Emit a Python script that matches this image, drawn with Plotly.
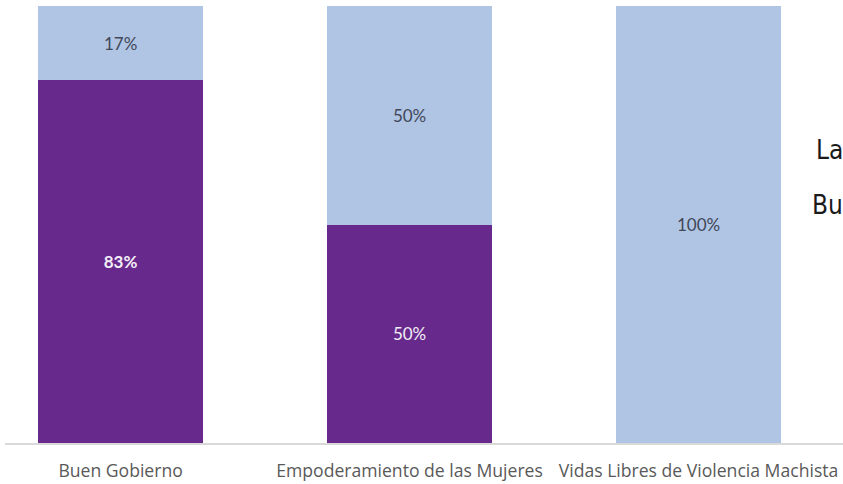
import plotly.graph_objects as go

categories = ["Buen Gobierno", "Empoderamiento de las Mujeres", "Vidas Libres de Violencia Machista"]
purple_vals = [83, 50, 0]
light_vals = [17, 50, 100]
side_texts = ["La", "Bu"]

purple_txt = [f"<b>{v}%</b>" if v > 60 else (f"{v}%" if v > 0 else "") for v in purple_vals]
light_txt = [f"{v}%" if v > 0 else "" for v in light_vals]

fig = go.Figure()
fig.add_trace(go.Bar(
    x=categories, y=purple_vals, marker_color="#68298d", marker_line_width=0,
    text=purple_txt, textposition="inside", insidetextanchor="middle",
    textfont=dict(family="Lato, Open Sans, sans-serif", size=17, color="#f2eef6"),
    hoverinfo="skip", width=0.57, showlegend=False,
))
fig.add_trace(go.Bar(
    x=categories, y=light_vals, marker_color="#b0c4e4", marker_line_width=0,
    text=light_txt, textposition="inside", insidetextanchor="middle",
    textfont=dict(family="Lato, Open Sans, sans-serif", size=17, color="#404858"),
    hoverinfo="skip", width=0.57, showlegend=False,
))
fig.update_layout(
    barmode="stack", width=843, height=484,
    margin=dict(l=5, r=0, t=6, b=41),
    paper_bgcolor="white", plot_bgcolor="white",
    uniformtext=dict(mode=False),
    xaxis=dict(range=[-0.4, 2.5], showline=True, linecolor="#d9d9d9", linewidth=1.5,
               showgrid=False, zeroline=False, ticks="", ticklabelstandoff=11,
               tickfont=dict(family="Open Sans, Lato, sans-serif", size=17.6, color="#595959")),
    yaxis=dict(range=[0, 100], visible=False, showgrid=False, zeroline=False),
)
for t, yp in zip(side_texts, [150, 205]):
    fig.add_annotation(
        x=1, y=1 - (yp - 6) / 437, xref="paper", yref="paper",
        text=t, showarrow=False, xanchor="right", yanchor="middle", xshift=2,
        font=dict(family="DejaVu Sans Condensed", size=26, color="#1a1a1a"),
    )
fig.write_html("out.html", config={"displayModeBar": False},
               post_script="document.body.style.margin='0';document.body.style.overflow='hidden';")
